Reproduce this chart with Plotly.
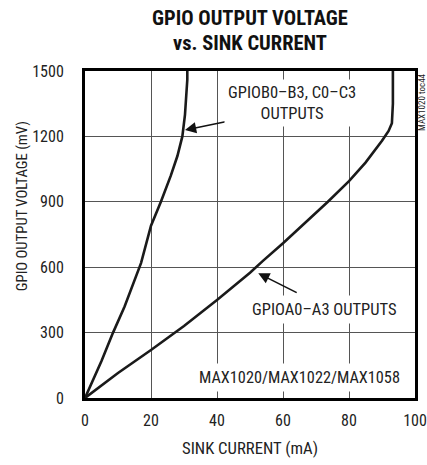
import plotly.graph_objects as go

# Data
b_current = [0, 5, 8.5, 12, 17, 20, 23, 26, 28, 29.5, 30.3, 30.8, 31, 31]
b_voltage = [0, 170, 300, 420, 620, 790, 900, 1020, 1110, 1200, 1300, 1400, 1460, 1500]

a_current = [0, 10, 20, 30, 40, 50, 54, 60, 70, 73.6, 80, 85, 90, 92, 93, 93.3, 93.3]
a_voltage = [0, 115, 220, 330, 450, 575, 630, 710, 850, 900, 995, 1080, 1180, 1225, 1260, 1350, 1500]

x_ticks = [0, 20, 40, 60, 80, 100]
y_ticks = [0, 300, 600, 900, 1200, 1500]

FONT = "Roboto Condensed, Liberation Sans Narrow, DejaVu Sans Condensed, sans-serif"
TXT = "#222222"

fig = go.Figure()
fig.add_trace(go.Scatter(x=b_current, y=b_voltage, mode="lines",
                         line=dict(color="#1a1a1a", width=2.6), showlegend=False))
fig.add_trace(go.Scatter(x=a_current, y=a_voltage, mode="lines",
                         line=dict(color="#1a1a1a", width=2.6), showlegend=False))

annotations = [
    # title
    dict(text="<b>GPIO OUTPUT VOLTAGE</b>", xref="paper", yref="paper", x=0.5, y=1.0,
         yshift=53, showarrow=False, font=dict(family=FONT, size=20.5, color="#111"),
         xanchor="center", yanchor="middle"),
    dict(text="<b>vs. SINK CURRENT</b>", xref="paper", yref="paper", x=0.5, y=1.0,
         yshift=28, showarrow=False, font=dict(family=FONT, size=20.5, color="#111"),
         xanchor="center", yanchor="middle"),
    # y-axis title
    dict(text="GPIO OUTPUT VOLTAGE (mV)", xref="paper", yref="y", x=0, xshift=-63,
         y=880, textangle=-90, showarrow=False,
         font=dict(family=FONT, size=14.7, color=TXT), xanchor="center", yanchor="middle"),
    # side code
    dict(text="MAX1020 toc44", xref="paper", yref="y", x=1, xshift=7, y=1358,
         textangle=-90, showarrow=False, font=dict(family=FONT, size=9, color=TXT),
         xanchor="center", yanchor="middle"),
    # arrows
    dict(text="", x=30.3, y=1229, ax=44.1, ay=1272, axref="x", ayref="y",
         showarrow=True, arrowhead=2, arrowsize=1.4, arrowwidth=1.6, arrowcolor="#111"),
    dict(text="", x=52.5, y=572, ax=64.6, ay=480, axref="x", ayref="y",
         showarrow=True, arrowhead=2, arrowsize=1.4, arrowwidth=1.6, arrowcolor="#111"),
    # labels
    dict(text="GPIOB0–B3, C0–C3<br>OUTPUTS", x=62.7, y=1355, showarrow=False,
         font=dict(family=FONT, size=16.5, color=TXT), bgcolor="white", borderpad=3,
         align="center", xanchor="center", yanchor="middle"),
    dict(text="GPIOA0–A3 OUTPUTS", x=72.7, y=408, showarrow=False,
         font=dict(family=FONT, size=16.5, color=TXT), bgcolor="white", borderpad=4,
         xanchor="center", yanchor="middle"),
    dict(text="MAX1020/MAX1022/MAX1058", x=97, y=92, showarrow=False,
         font=dict(family=FONT, size=16.3, color=TXT), bgcolor="white", borderpad=4,
         xanchor="right", yanchor="middle"),
]

fig.update_layout(
    width=427, height=465,
    margin=dict(l=85, r=12, t=71, b=67),
    paper_bgcolor="white", plot_bgcolor="white",
    font=dict(family=FONT, size=16, color=TXT),
    annotations=annotations,
    xaxis=dict(range=[0, 100], tickvals=x_ticks, ticktext=[str(v) for v in x_ticks],
               automargin=False, ticklabeloverflow="allow",
               showgrid=True, gridcolor="#555", gridwidth=1.2,
               showline=True, linecolor="black", linewidth=3, mirror=True,
               zeroline=False, ticks="outside", ticklen=6, tickcolor="rgba(0,0,0,0)",
               title=dict(text="SINK CURRENT (mA)", font=dict(family=FONT, size=16.7, color=TXT),
                          standoff=14),
               tickfont=dict(family=FONT, size=16, color=TXT)),
    yaxis=dict(range=[0, 1500], tickvals=y_ticks, ticktext=[str(v) for v in y_ticks],
               automargin=False, ticklabeloverflow="allow",
               showgrid=True, gridcolor="#555", gridwidth=1.2,
               showline=True, linecolor="black", linewidth=3, mirror=True,
               zeroline=False, ticks="outside", ticklen=15, tickcolor="rgba(0,0,0,0)",
               tickfont=dict(family=FONT, size=16, color=TXT)),
)

fig.write_html("out.html", config={"displayModeBar": False},
               post_script="document.body.style.margin='0';")
